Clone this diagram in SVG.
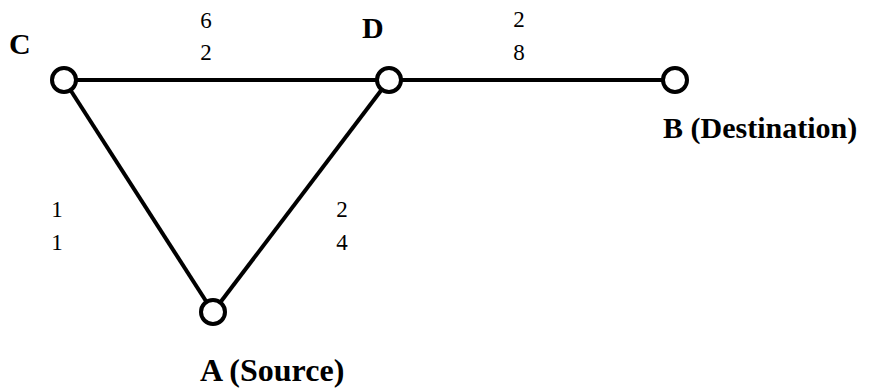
<svg xmlns="http://www.w3.org/2000/svg" width="870" height="390" viewBox="0 0 870 390">
<style>
.edge{stroke:#000;stroke-width:4;fill:none}
.node{fill:#fff;stroke:#000;stroke-width:4}
.lbl{font-weight:bold;font-size:30px;fill:#000}
.w{font-size:23px;fill:#000;text-anchor:middle}
</style>
<rect width="870" height="390" fill="#fff"/>
<g font-family="'Liberation Serif', 'Times New Roman', 'DejaVu Serif', serif">
<g id="connectors">
<line class="edge" x1="64" y1="80" x2="389" y2="80"/>
<line class="edge" x1="389" y1="80" x2="675" y2="80"/>
<line class="edge" x1="64" y1="80" x2="213" y2="312"/>
<line class="edge" x1="389" y1="80" x2="213" y2="312"/>
<text class="w" x="206" y="28">6</text>
<text class="w" x="206" y="60">2</text>
<text class="w" x="519" y="27">2</text>
<text class="w" x="519" y="60">8</text>
<text class="w" x="57" y="217">1</text>
<text class="w" x="57" y="250">1</text>
<text class="w" x="342" y="217">2</text>
<text class="w" x="342" y="250">4</text>
</g>
<g id="C">
<circle class="node" cx="64" cy="80" r="12"/>
<text class="lbl" x="9" y="54">C</text>
</g>
<g id="D">
<circle class="node" cx="389" cy="80" r="12"/>
<text class="lbl" x="362" y="38">D</text>
</g>
<g id="B">
<circle class="node" cx="675" cy="80" r="12"/>
<text class="lbl" x="663" y="138">B (Destination)</text>
</g>
<g id="A">
<circle class="node" cx="213" cy="312" r="12"/>
<text class="lbl" x="200" y="381" style="font-size:32px">A (Source)</text>
</g>
</g>
</svg>
